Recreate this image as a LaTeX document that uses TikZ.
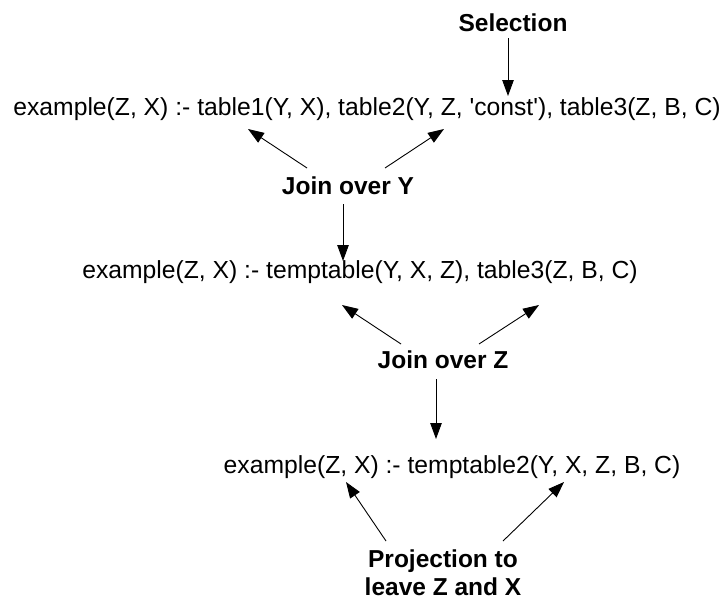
\documentclass[tikz,border=0pt]{standalone}
\usepackage{fontspec}
\setmainfont{Liberation Sans}
\usetikzlibrary{arrows.meta}
\begin{document}
\begin{tikzpicture}[x=1pt,y=-1pt,
  rule/.style={inner sep=0pt,anchor=base,font=\fontsize{24.7}{29}\selectfont},
  lbl/.style={inner sep=0pt,anchor=base,font=\fontsize{24.5}{29}\selectfont\bfseries},
  arr/.style={line width=0.9pt,-{Triangle[length=16pt,width=11.5pt]}}]
\useasboundingbox (0,0) rectangle (725,600);
\node[lbl] (sel) at (513,31) {Selection};
\node[rule] (r1) at (367,115) {example(Z, X) :- table1(Y, X), table2(Y, Z, \textquotesingle const\textquotesingle), table3(Z, B, C)};
\node[lbl] (jy) at (348,194) {Join over Y};
\node[rule] (r2) at (360,278) {example(Z, X) :- temptable(Y, X, Z), table3(Z, B, C)};
\node[lbl] (jz) at (443,368) {Join over Z};
\node[rule] (r3) at (452,473) {example(Z, X) :- temptable2(Y, X, Z, B, C)};
\node[lbl,align=center,anchor=north] (pr) at (443,550) {Projection to\\[-1pt]leave Z and X};
% connector end points
\coordinate (s0) at (508,38);  \coordinate (s1) at (508,96);
\coordinate (a0) at (307,168); \coordinate (a1) at (248,129);
\coordinate (b0) at (385,168); \coordinate (b1) at (444,129);
\coordinate (c0) at (343,204); \coordinate (c1) at (343,261);
\coordinate (d0) at (401,344); \coordinate (d1) at (342,305);
\coordinate (e0) at (479,344); \coordinate (e1) at (539,305);
\coordinate (f0) at (436,379); \coordinate (f1) at (436,439);
\coordinate (g0) at (386,541); \coordinate (g1) at (346,482);
\coordinate (h0) at (503,541); \coordinate (h1) at (564,482);
\draw[arr] (s0) -- (s1);
\draw[arr] (a0) -- (a1);
\draw[arr] (b0) -- (b1);
\draw[arr] (c0) -- (c1);
\draw[arr] (d0) -- (d1);
\draw[arr] (e0) -- (e1);
\draw[arr] (f0) -- (f1);
\draw[arr] (g0) -- (g1);
\draw[arr] (h0) -- (h1);
\end{tikzpicture}
\end{document}
